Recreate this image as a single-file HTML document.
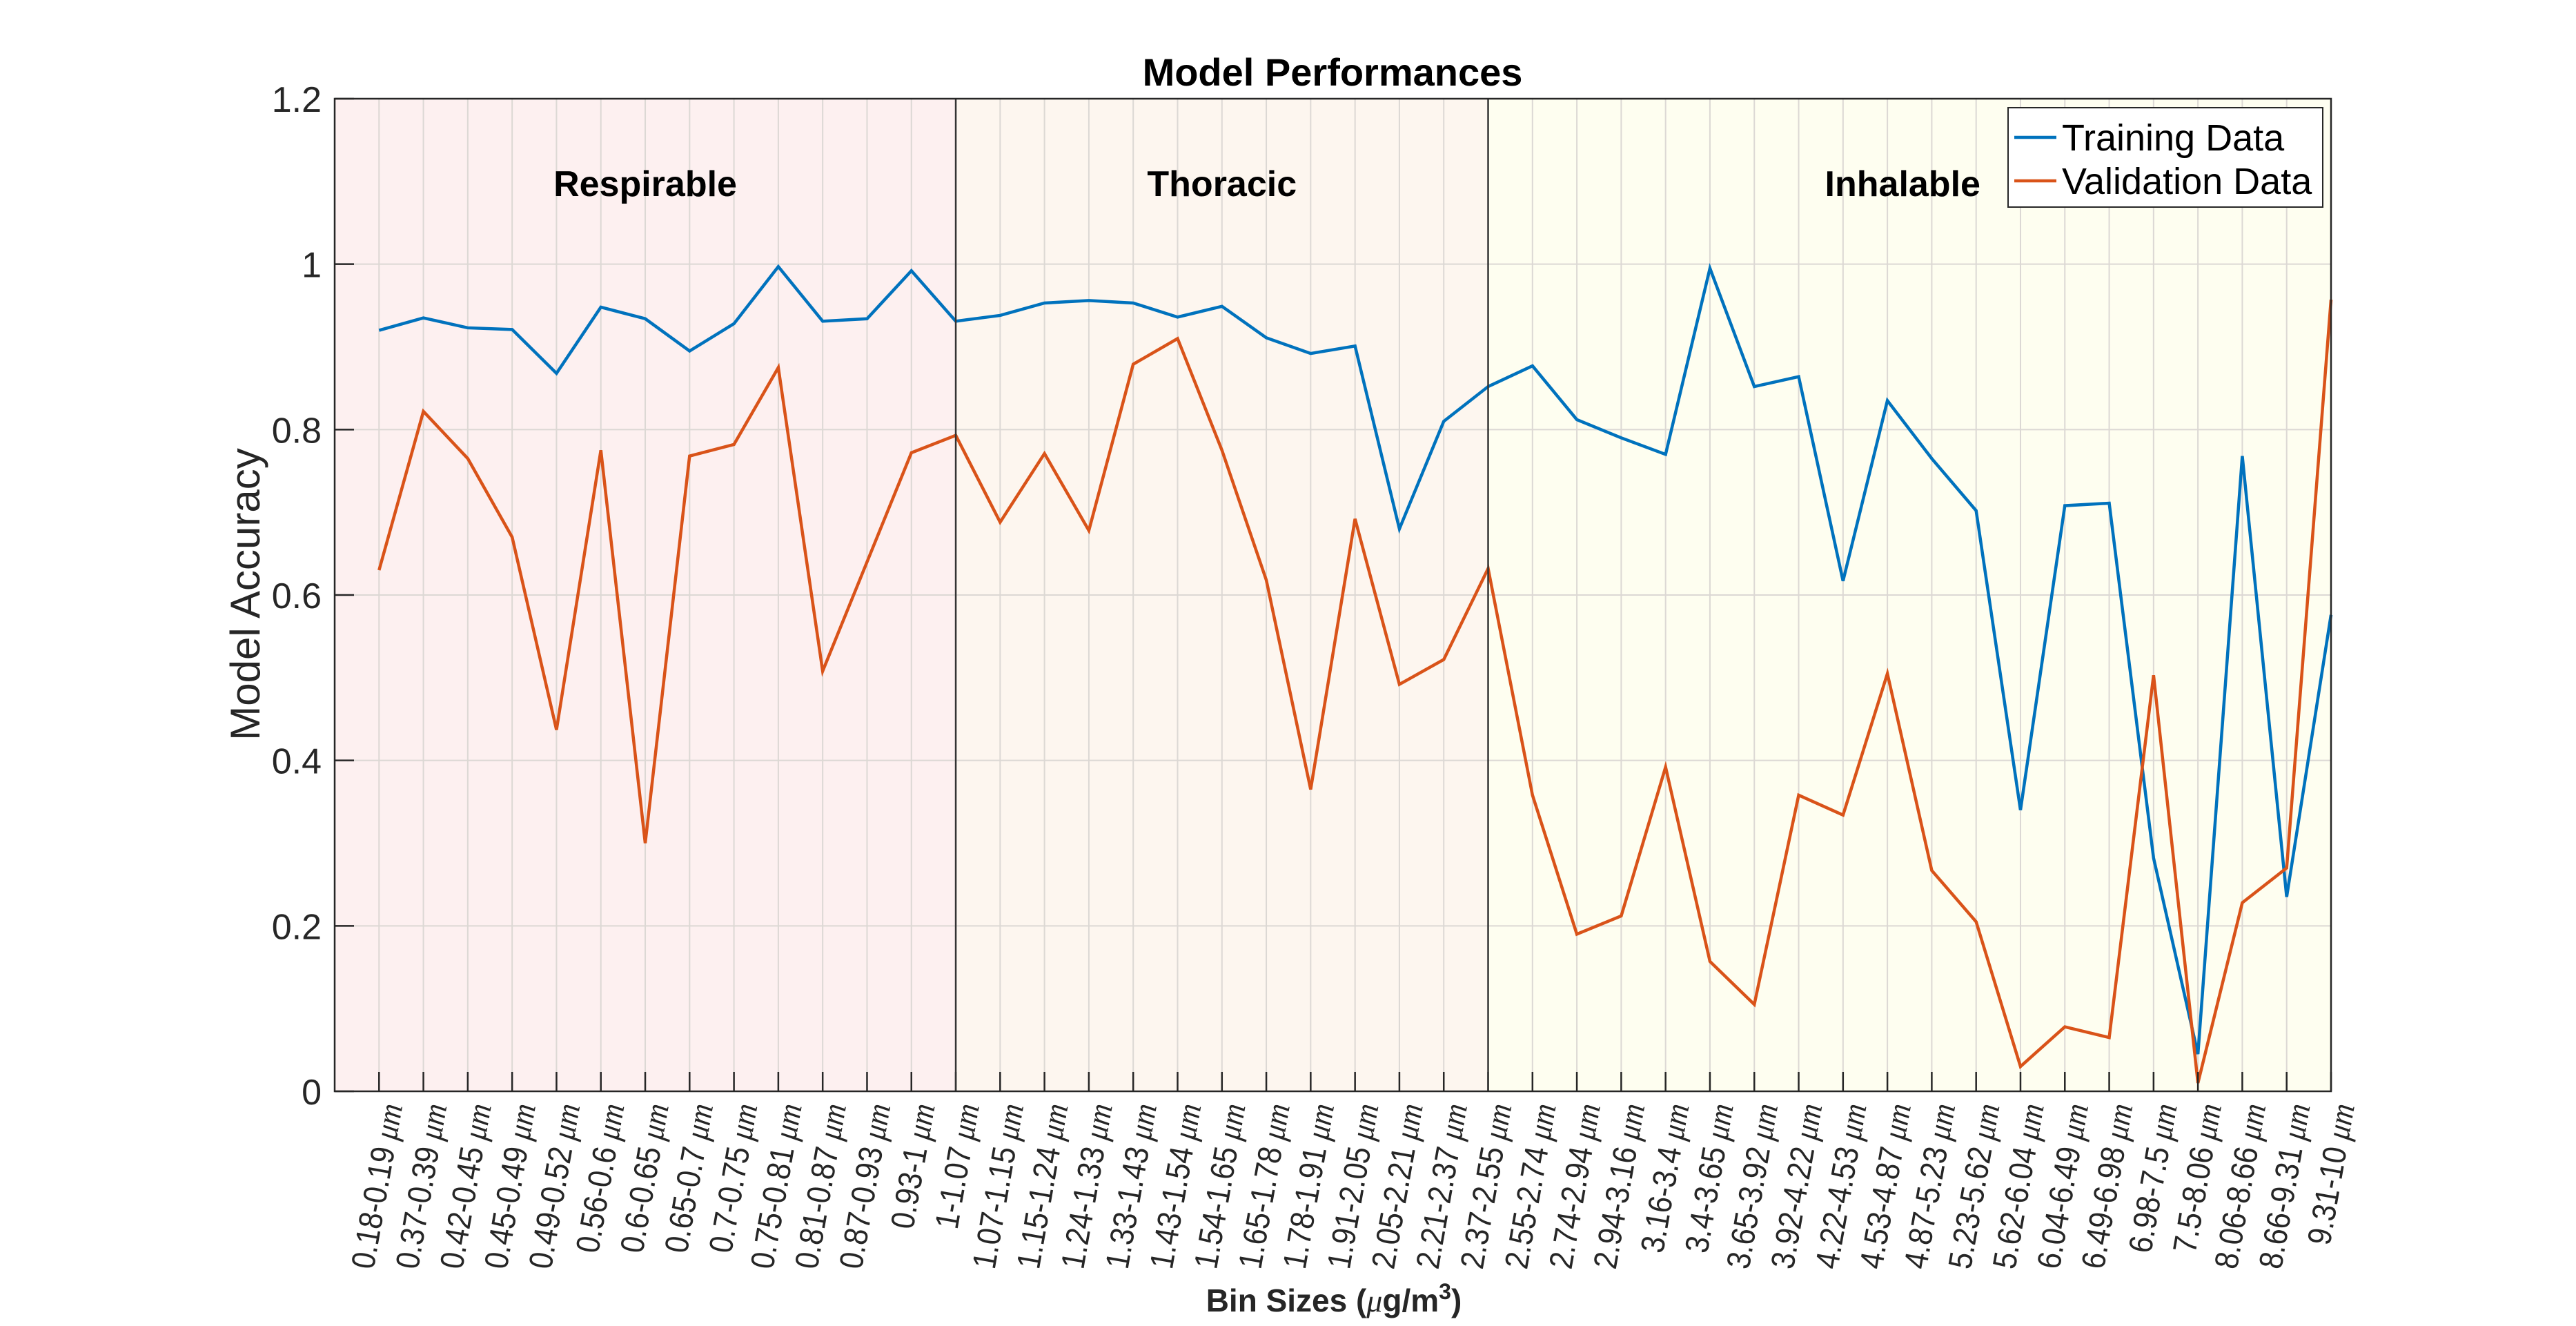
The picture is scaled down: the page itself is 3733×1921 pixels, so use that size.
<!DOCTYPE html>
<html><head><meta charset="utf-8">
<style>
html,body{margin:0;padding:0;background:#fff;}
svg{display:block;font-family:"Liberation Sans",Arial,sans-serif;}
</style></head>
<body>
<svg id="chart" width="3733" height="1921" viewBox="0 0 3733 1921" xmlns="http://www.w3.org/2000/svg">
<g id="bg"></g><g id="grid"></g><g id="lines"></g><g id="axes"></g><g id="labels"></g>
</svg>
<script>
const categories = ["0.18-0.19","0.37-0.39","0.42-0.45","0.45-0.49","0.49-0.52","0.56-0.6","0.6-0.65","0.65-0.7","0.7-0.75","0.75-0.81","0.81-0.87","0.87-0.93","0.93-1","1-1.07","1.07-1.15","1.15-1.24","1.24-1.33","1.33-1.43","1.43-1.54","1.54-1.65","1.65-1.78","1.78-1.91","1.91-2.05","2.05-2.21","2.21-2.37","2.37-2.55","2.55-2.74","2.74-2.94","2.94-3.16","3.16-3.4","3.4-3.65","3.65-3.92","3.92-4.22","4.22-4.53","4.53-4.87","4.87-5.23","5.23-5.62","5.62-6.04","6.04-6.49","6.49-6.98","6.98-7.5","7.5-8.06","8.06-8.66","8.66-9.31","9.31-10"];
const trainingData = [0.92,0.935,0.923,0.921,0.868,0.948,0.934,0.895,0.928,0.997,0.931,0.934,0.992,0.931,0.938,0.953,0.956,0.953,0.936,0.949,0.911,0.892,0.901,0.68,0.81,0.852,0.877,0.812,0.79,0.77,0.995,0.852,0.864,0.617,0.835,0.765,0.702,0.34,0.708,0.711,0.282,0.045,0.768,0.235,0.576];
const validationData = [0.63,0.822,0.765,0.67,0.437,0.775,0.30,0.768,0.782,0.875,0.508,0.64,0.772,0.793,0.688,0.771,0.678,0.879,0.91,0.775,0.618,0.365,0.692,0.492,0.522,0.632,0.358,0.19,0.212,0.392,0.157,0.105,0.358,0.334,0.505,0.267,0.205,0.03,0.078,0.065,0.503,0.01,0.228,0.27,0.957];
const yTicks = [0,0.2,0.4,0.6,0.8,1,1.2];
const yTickLabels = ["0","0.2","0.4","0.6","0.8","1","1.2"];
const regionBounds = [0,14,26,45];
const regionNames = ["Respirable","Thoracic","Inhalable"];

const NS="http://www.w3.org/2000/svg";
const L=485,R=3378,T=143,B=1581;
const xs=v=>L+(v/45)*(R-L);
const ys=v=>B-(v/1.2)*(B-T);
function mk(tag,attrs,parent){const e=document.createElementNS(NS,tag);for(const k in attrs)e.setAttribute(k,attrs[k]);parent.appendChild(e);return e;}
const bg=document.getElementById('bg'),grid=document.getElementById('grid'),lines=document.getElementById('lines'),axes=document.getElementById('axes'),labels=document.getElementById('labels');
const regionColors=["#fdf0f0","#fdf6ef","#fefef0"];
for(let i=0;i<3;i++){
  const r=mk('rect',{x:xs(regionBounds[i]),y:T,width:xs(regionBounds[i+1])-xs(regionBounds[i]),height:B-T,fill:regionColors[i]},bg);
  
  
  const t=mk('text',{x:(xs(regionBounds[i])+xs(regionBounds[i+1]))/2+(i==2?-10:0),y:284,'font-size':52,'font-weight':'bold','text-anchor':'middle',fill:'#000'},labels);
  t.textContent=regionNames[i];
  
  
}
categories.forEach((c,i)=>{
  const x=xs(i+1);
  const g=mk('line',{x1:x,x2:x,y1:T,y2:B,stroke:'#dcd8d4','stroke-width':2},grid);
  
  
  const tk=mk('line',{x1:x,x2:x,y1:B,y2:B-28,stroke:'#262626','stroke-width':2.5},axes);
  
  
  const tx=mk('text',{transform:`translate(${x+34},1602) rotate(-80) scale(0.88,1)`,'font-size':48,'text-anchor':'end',fill:'#262626'},labels);
  tx.innerHTML=c+' <tspan font-style="italic" font-family="Liberation Serif, serif">μm</tspan>';
  
  
});
yTicks.forEach((v,i)=>{
  const y=ys(v);
  if(v>0&&v<1.2){const g=mk('line',{x1:L,x2:R,y1:y,y2:y,stroke:'#dcd8d4','stroke-width':2},grid);
  
  }
  const tk=mk('line',{x1:L,x2:L+28,y1:y,y2:y,stroke:'#262626','stroke-width':2.5},axes);
  
  
  const t=mk('text',{x:466,y:y+19,'font-size':52,'text-anchor':'end',fill:'#262626'},labels);
  t.textContent=yTickLabels[i];
  
  
});
[14,26].forEach(b=>{
  const d=mk('line',{x1:xs(b),x2:xs(b),y1:T,y2:B,stroke:'#333','stroke-width':2.5},axes);
  
  
});
const box=mk('rect',{x:L,y:T,width:R-L,height:B-T,fill:'none',stroke:'#262626','stroke-width':2.5},axes);


function series(data,color,name){
  const pts=data.map((v,i)=>xs(i+1)+','+ys(v)).join(' ');
  const p=mk('polyline',{points:pts,fill:'none',stroke:color,'stroke-width':4.5,'stroke-linejoin':'miter'},lines);
  
  
}
series(trainingData,'#0072BD','training-data-line');
series(validationData,'#D95319','validation-data-line');
const lg=mk('g',{},labels);


mk('rect',{x:2910,y:156,width:456,height:144,fill:'#fff',stroke:'#262626','stroke-width':2},lg);
mk('line',{x1:2919,x2:2980,y1:199,y2:199,stroke:'#0072BD','stroke-width':4.5},lg);
mk('line',{x1:2919,x2:2980,y1:262,y2:262,stroke:'#D95319','stroke-width':4.5},lg);
const l1=mk('text',{x:2988,y:218,'font-size':54,fill:'#000'},lg);l1.textContent='Training Data';


const l2=mk('text',{x:2988,y:281,'font-size':54,fill:'#000'},lg);l2.textContent='Validation Data';


const title=mk('text',{x:1931,y:124,'font-size':56,'font-weight':'bold','text-anchor':'middle',fill:'#000'},labels);
title.textContent='Model Performances';


const yt=mk('text',{transform:'translate(376,861) rotate(-90)','font-size':60,'text-anchor':'middle',fill:'#262626'},labels);
yt.textContent='Model Accuracy';


const xt=mk('text',{x:1933,y:1900,'font-size':46,'font-weight':'bold','text-anchor':'middle',fill:'#262626'},labels);
xt.innerHTML='Bin Sizes (<tspan font-style="italic" font-weight="normal" font-family="Liberation Serif, serif">μ</tspan>g/m<tspan font-size="32" dy="-18">3</tspan><tspan dy="18">)</tspan>';


</script>
</body></html>
